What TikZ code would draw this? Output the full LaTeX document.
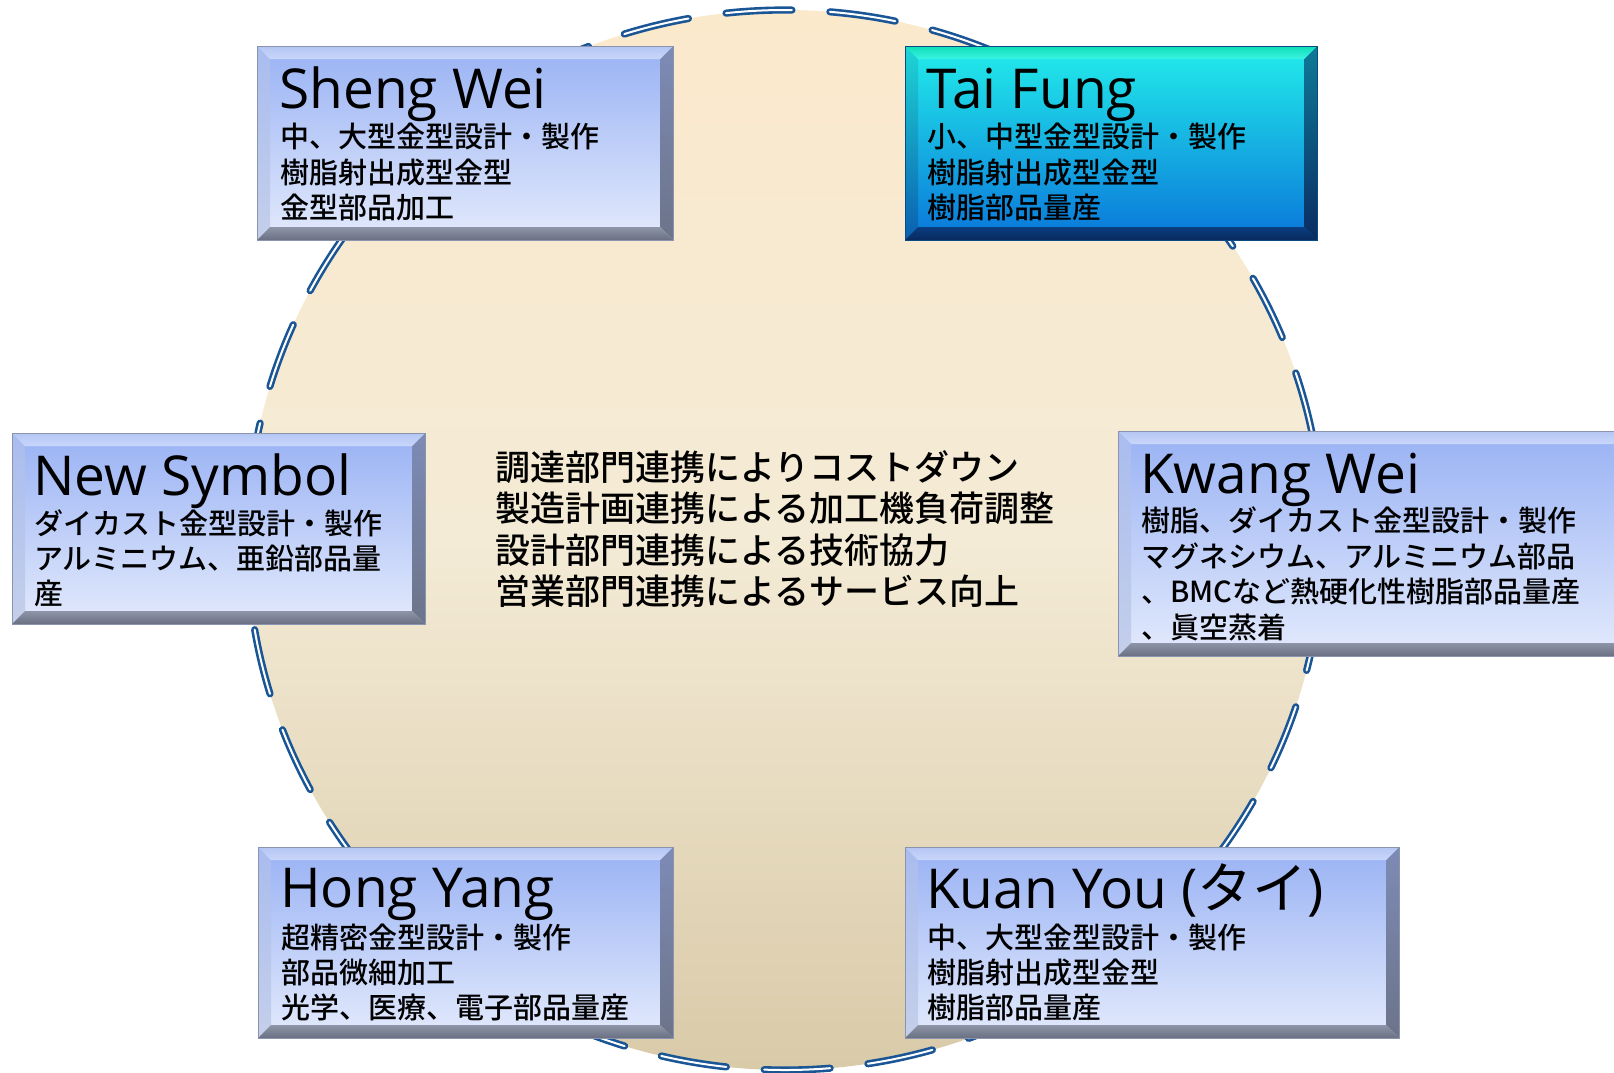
\documentclass[tikz,border=0pt]{standalone}
\usepackage{fontspec}
\setmainfont{Open Sans}
\newfontfamily\jp{Noto Sans CJK JP}[UprightFont=* Medium]
\newfontfamily\jpt{Noto Sans CJK JP}
\usetikzlibrary{shapes.geometric}

\definecolor{ringblue}{HTML}{1A5596}
\definecolor{ringtop}{HTML}{FBE9CC}
\definecolor{ringmid}{HTML}{F4EBD6}
\definecolor{ringbot}{HTML}{D9CAA8}
% blue box scheme
\definecolor{blft}{HTML}{99B2F4}
\definecolor{blfb}{HTML}{E3EAFC}
\definecolor{bltt}{HTML}{B4C6F4}
\definecolor{bltb}{HTML}{C9D6FA}
\definecolor{bllt}{HTML}{A9BCEE}
\definecolor{bllb}{HTML}{C4CFEA}
\definecolor{blrt}{HTML}{7D8BB6}
\definecolor{blrb}{HTML}{6C7489}
\definecolor{blbt}{HTML}{8E95A8}
\definecolor{blbb}{HTML}{6A7082}
\definecolor{blln}{HTML}{8A94AE}
% Tai Fung scheme
\definecolor{tfft}{HTML}{22EDEA}
\definecolor{tffb}{HTML}{0A76DA}
\definecolor{tftt}{HTML}{10DDB8}
\definecolor{tftb}{HTML}{3AF4E2}
\definecolor{tflt}{HTML}{1ED6D6}
\definecolor{tflb}{HTML}{0A5EB0}
\definecolor{tfrt}{HTML}{0E7A98}
\definecolor{tfrb}{HTML}{0A2C62}
\definecolor{tfbt}{HTML}{0A3C80}
\definecolor{tfbb}{HTML}{082A5E}
\definecolor{tfln}{HTML}{0A4A80}

\tikzset{
  ringstyle/.style={ellipse, inner sep=0, minimum width=1076pt, minimum height=1060pt,
    top color=ringtop, bottom color=ringbot, middle color=ringmid},
  ringline/.style={draw=ringblue, line width=2.6pt, double=white, double distance=2pt,
    dash pattern=on 66pt off 38pt, line cap=round},
  boxnode/.style={rectangle, inner sep=0, outer sep=0, anchor=north west},
  ttl/.style={font=\fontsize{55}{60}\selectfont, inner sep=0, anchor=base west, text=black},
  bdy/.style={font=\jp\fontsize{29}{35}\selectfont, inner sep=0, anchor=base west, text=black},
  ctr/.style={font=\jp\fontsize{35}{41}\selectfont, inner sep=0, anchor=base west, text=black},
}

\newcommand\bevbox[6]{%
  \node[boxnode, minimum width={#4-#2}, minimum height={#5-#3},
        top color=#6ft, bottom color=#6fb] (#1) at (#2,-#3) {};
  \shade[top color=#6lt, bottom color=#6lb] (#1.north west) -- (#1.south west)
     -- ([shift={(13,13)}]#1.south west) -- ([shift={(13,-13)}]#1.north west) -- cycle;
  \shade[top color=#6rt, bottom color=#6rb] (#1.north east) -- (#1.south east)
     -- ([shift={(-13,13)}]#1.south east) -- ([shift={(-13,-13)}]#1.north east) -- cycle;
  \shade[top color=#6tt, bottom color=#6tb] (#1.north west) -- (#1.north east)
     -- ([shift={(-13,-13)}]#1.north east) -- ([shift={(13,-13)}]#1.north west) -- cycle;
  \shade[top color=#6bt, bottom color=#6bb] (#1.south west) -- (#1.south east)
     -- ([shift={(-13,13)}]#1.south east) -- ([shift={(13,13)}]#1.south west) -- cycle;
  \draw[#6ln, line width=0.7pt] (#1.north west) rectangle (#1.south east);
}

\begin{document}
\begin{tikzpicture}[x=1pt,y=1pt]
\useasboundingbox (0,0) rectangle (1614,-1072);
\clip (0,0) rectangle (1614,-1072);
\fill[white] (0,0) rectangle (1614,-1072);

\node[ringstyle] (ring) at (785,-540) {};
\draw[ringline] (ring.center) ellipse [x radius=538, y radius=530];

\bevbox{sw}{257}{46}{673}{240}{bl}
\bevbox{tf}{905}{46}{1317}{240}{tf}
\bevbox{ns}{12}{433}{425}{624}{bl}
\bevbox{kw}{1118}{431}{1640}{656}{bl}
\bevbox{hy}{258}{847}{673}{1038}{bl}
\bevbox{ky}{905}{847}{1399}{1038}{bl}

% titles
\node[ttl] (sw-t) at ([shift={(22,-62)}]sw.north west) {Sheng Wei};
\node[ttl] (tf-t) at ([shift={(21,-62)}]tf.north west) {Tai Fung};
\node[ttl] (ns-t) at ([shift={(21,-62)}]ns.north west) {New Symbol};
\node[ttl] (kw-t) at ([shift={(22,-62)}]kw.north west) {Kwang Wei};
\node[ttl] (hy-t) at ([shift={(22,-60)}]hy.north west) {Hong Yang};
\node[ttl] (ky-t) at ([shift={(21,-61)}]ky.north west) {Kuan You ({\jpt タイ})};

% bodies
\foreach \s [count=\i] in {中、大型金型設計・製作,樹脂射出成型金型,金型部品加工}
  \node[bdy] (sw-\i) at ([shift={(23,{-66-35.5*\i})}]sw.north west) {\s};
\foreach \s [count=\i] in {小、中型金型設計・製作,樹脂射出成型金型,樹脂部品量産}
  \node[bdy] (tf-\i) at ([shift={(22,{-66-35.5*\i})}]tf.north west) {\s};
\foreach \s [count=\i] in {ダイカスト金型設計・製作,アルミニウム、亜鉛部品量,産}
  \node[bdy] (ns-\i) at ([shift={(22,{-66-35*\i})}]ns.north west) {\s};
\foreach \s [count=\i] in {樹脂、ダイカスト金型設計・製作,マグネシウム、アルミニウム部品,、BMCなど熱硬化性樹脂部品量産,、眞空蒸着}
  \node[bdy] (kw-\i) at ([shift={(23,{-65-35.5*\i})}]kw.north west) {\s};
\foreach \s [count=\i] in {超精密金型設計・製作,部品微細加工,光学、医療、電子部品量産}
  \node[bdy] (hy-\i) at ([shift={(23,{-66-35*\i})}]hy.north west) {\s};
\foreach \s [count=\i] in {中、大型金型設計・製作,樹脂射出成型金型,樹脂部品量産}
  \node[bdy] (ky-\i) at ([shift={(22,{-66-35*\i})}]ky.north west) {\s};

% centre text
\foreach \s [count=\i] in {調達部門連携によりコストダウン,製造計画連携による加工機負荷調整,設計部門連携による技術協力,営業部門連携によるサービス向上}
  \node[ctr] (c-\i) at (495,{-438.5-41.5*\i}) {\s};
\end{tikzpicture}
\end{document}
